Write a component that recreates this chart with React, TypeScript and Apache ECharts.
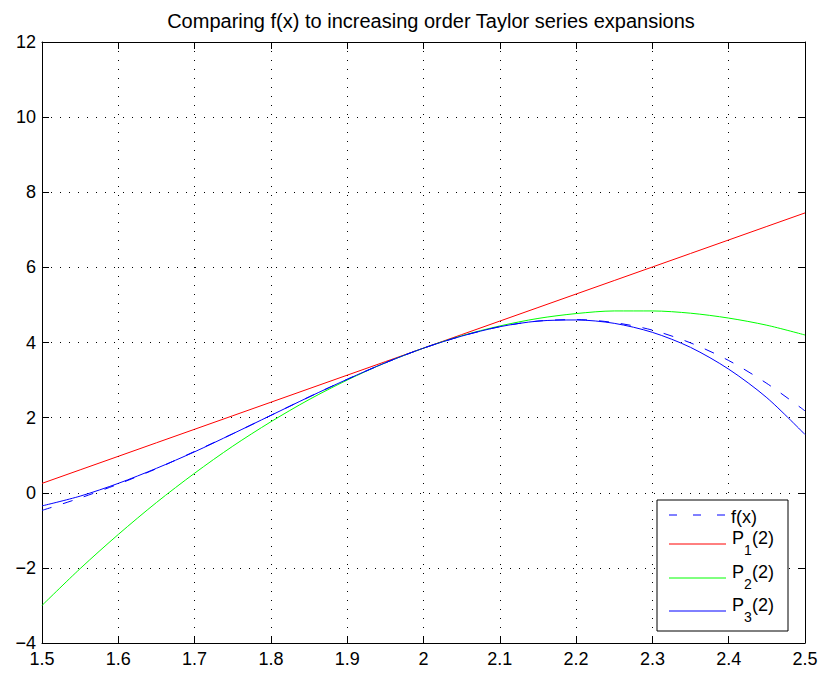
import React, { useEffect, useRef } from "react";
import * as echarts from "echarts";

const xValues = [1.5, 1.55, 1.6, 1.65, 1.7, 1.75, 1.8, 1.85, 1.9, 1.95, 2.0, 2.05, 2.1, 2.15, 2.2, 2.25, 2.3, 2.35, 2.4, 2.45, 2.5];
const fValues = [-0.47, -0.14, 0.23, 0.64, 1.1, 1.57, 2.06, 2.55, 3.02, 3.46, 3.85, 4.17, 4.42, 4.57, 4.61, 4.53, 4.33, 3.99, 3.52, 2.91, 2.18];
const p1Values = [0.25, 0.61, 0.97, 1.33, 1.69, 2.05, 2.41, 2.77, 3.13, 3.49, 3.85, 4.21, 4.57, 4.93, 5.29, 5.65, 6.01, 6.37, 6.73, 7.09, 7.45];
const p2Values = [-3.0, -2.02, -1.11, -0.26, 0.52, 1.24, 1.89, 2.48, 3.0, 3.46, 3.85, 4.18, 4.44, 4.64, 4.77, 4.84, 4.84, 4.78, 4.65, 4.46, 4.2];
const p3Values = [-0.35, -0.09, 0.25, 0.65, 1.09, 1.57, 2.06, 2.55, 3.02, 3.46, 3.85, 4.17, 4.42, 4.57, 4.6, 4.51, 4.27, 3.87, 3.29, 2.53, 1.55];

const titleText = "Comparing f(x) to increasing order Taylor series expansions";
const FONT = "'Liberation Sans', Arial, Helvetica, sans-serif";

const pairs = (ys: number[]) => xValues.map((x, i) => [x, ys[i]]);

export default function App() {
  const ref = useRef<HTMLDivElement>(null);
  useEffect(() => {
    if (!ref.current) return;
    const chart = echarts.init(ref.current, null, { renderer: "svg" });
    const gridLine = { show: true, lineStyle: { color: "#000", width: 1, type: [1, 8] as any } };
    const tick = { show: true, inside: true, length: 7, lineStyle: { color: "#000" } };
    const axisLine = { show: true, onZero: false, lineStyle: { color: "#000", width: 1 } };
    const label = { color: "#000", fontSize: 18, fontFamily: FONT };

    const legendX = 657, legendY = 500, legendW = 131, legendH = 131;
    const rows = [
      { y: 515, color: "#0000ff", dash: [8, 16], sub: "" },
      { y: 544, color: "#ff0000", dash: null, sub: "1" },
      { y: 578, color: "#00ff00", dash: null, sub: "2" },
      { y: 611, color: "#0000ff", dash: null, sub: "3" },
    ];
    const legendEls: any[] = [
      { type: "rect", shape: { x: legendX, y: legendY, width: legendW, height: legendH }, style: { fill: "#fff", stroke: "#000", lineWidth: 1 }, z: 100 },
    ];
    rows.forEach((r) => {
      legendEls.push({
        type: "line",
        shape: { x1: 669, y1: r.y, x2: 726, y2: r.y },
        style: { stroke: r.color, lineWidth: 1, lineDash: r.dash || undefined },
        z: 101,
      });
      if (r.sub === "") {
        legendEls.push({ type: "text", x: 731, y: r.y + 2, style: { text: "f(x)", font: `18px ${FONT}`, fill: "#000", verticalAlign: "middle" }, z: 101 });
      } else {
        legendEls.push({ type: "text", x: 732, y: r.y - 6, style: { text: "P", font: `18px ${FONT}`, fill: "#000", verticalAlign: "middle" }, z: 101 });
        legendEls.push({ type: "text", x: 744, y: r.y + 6, style: { text: r.sub, font: `14px ${FONT}`, fill: "#000", verticalAlign: "middle" }, z: 101 });
        legendEls.push({ type: "text", x: 752, y: r.y - 6, style: { text: "(2)", font: `18px ${FONT}`, fill: "#000", verticalAlign: "middle" }, z: 101 });
      }
    });

    chart.setOption({
      animation: false,
      backgroundColor: "#fff",
      title: {
        text: titleText,
        left: 426,
        textAlign: "center",
        top: 6,
        textStyle: { color: "#000", fontSize: 20, fontWeight: "normal", fontFamily: FONT },
      },
      grid: { left: 42, right: 16, top: 42, bottom: 30, containLabel: false },
      xAxis: [
        {
          type: "value", min: 1.5, max: 2.5, interval: 0.1, position: "bottom",
          axisLine, axisTick: tick, splitLine: gridLine,
          axisLabel: { ...label, margin: 7, formatter: (v: number) => String(Math.round(v * 10) / 10) },
        },
        {
          type: "value", min: 1.5, max: 2.5, interval: 0.1, position: "top",
          axisLine, axisTick: tick, splitLine: { show: false }, axisLabel: { show: false },
        },
      ],
      yAxis: [
        {
          type: "value", min: -4, max: 12, interval: 2, position: "left",
          axisLine, axisTick: tick, splitLine: gridLine,
          axisLabel: { ...label, margin: 6, formatter: (v: number) => String(v).replace("-", "\u2212") },
        },
        {
          type: "value", min: -4, max: 12, interval: 2, position: "right",
          axisLine, axisTick: tick, splitLine: { show: false }, axisLabel: { show: false },
        },
      ],
      series: [
        { name: "f(x)", type: "line", data: pairs(fValues), smooth: 0.3, showSymbol: false, symbol: "none", lineStyle: { color: "#0000ff", width: 1, type: [10, 12] as any }, z: 5 },
        { name: "P1(2)", type: "line", data: pairs(p1Values), smooth: false, showSymbol: false, symbol: "none", lineStyle: { color: "#ff0000", width: 1 }, z: 4 },
        { name: "P2(2)", type: "line", data: pairs(p2Values), smooth: 0.3, showSymbol: false, symbol: "none", lineStyle: { color: "#00ff00", width: 1 }, z: 4 },
        { name: "P3(2)", type: "line", data: pairs(p3Values), smooth: 0.3, showSymbol: false, symbol: "none", lineStyle: { color: "#0000ff", width: 1 }, z: 6 },
      ],
      graphic: legendEls,
    });
    return () => chart.dispose();
  }, []);
  return <div ref={ref} style={{ position: "fixed", left: 0, top: 0, width: 821, height: 673 }} />;
}
